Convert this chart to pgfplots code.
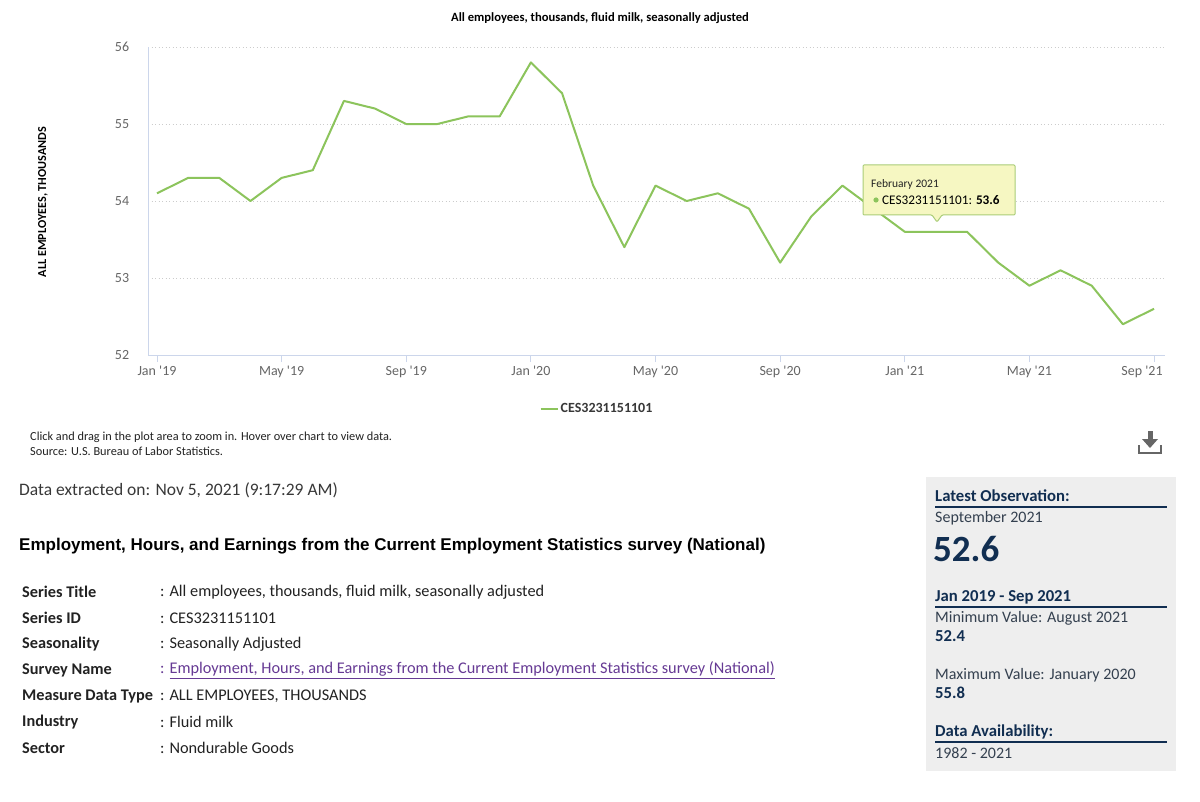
\documentclass[border=0pt]{standalone}
\usepackage{pgfplots}
\pgfplotsset{compat=1.18}
\usepackage{pgfplotstable}
\usepackage{fontspec}
\setmainfont{Carlito}[Ligatures=TeXOff]
\newfontfamily\arial{Liberation Sans}
\definecolor{linegreen}{RGB}{140,196,92}
\definecolor{axisline}{HTML}{CCD6EB}
\definecolor{gridc}{HTML}{CCCCCC}
\definecolor{tickc}{HTML}{666666}
\definecolor{tipfill}{RGB}{246,247,194}
\definecolor{tipdraw}{RGB}{170,205,120}
\definecolor{panelfill}{HTML}{EEEEEE}
\definecolor{navy}{HTML}{112E51}
\definecolor{paneltext}{HTML}{34404F}
\definecolor{linkpurple}{RGB}{102,58,148}
\definecolor{bodytext}{HTML}{222222}
\pgfplotstableread{
x y
0 54.1
1 54.3
2 54.3
3 54.0
4 54.3
5 54.4
6 55.3
7 55.2
8 55.0
9 55.0
10 55.1
11 55.1
12 55.8
13 55.4
14 54.2
15 53.4
16 54.2
17 54.0
18 54.1
19 53.9
20 53.2
21 53.8
22 54.2
23 53.9
24 53.6
25 53.6
26 53.6
27 53.2
28 52.9
29 53.1
30 52.9
31 52.4
32 52.6
}\datatable
\newcommand{\fs}[1]{\fontsize{#1}{#1}\selectfont}
\begin{document}
\begin{tikzpicture}
\path[use as bounding box, fill=white] (0pt,0pt) rectangle (1200pt,-802pt);
\begin{axis}[
  at={(148pt,-355pt)}, anchor=south west,
  scale only axis, width=1017pt, height=308pt,
  xmin=-0.289, xmax=32.353, ymin=52, ymax=56,
  axis x line*=bottom, axis y line*=left,
  axis line style={draw=axisline, line width=1pt, -},
  xtick={0,4,8,12,16,20,24,28},
  xticklabels={Jan '19,May '19,Sep '19,Jan '20,May '20,Sep '20,Jan '21,May '21},
  extra x ticks={32}, extra x tick labels={Sep '21},
  extra x tick style={xticklabel style={xshift=-12pt}, grid=none},
  ytick={52,53,54,55,56},
  /pgf/number format/assume math mode=true,
  tick align=outside,
  x tick style={draw=axisline, line width=1pt},
  xtick pos=bottom,
  major tick length=7pt,
  y tick style={draw=none},
  ytick pos=left,
  ticklabel style={font=\fs{14}, text=tickc},
  yticklabel style={xshift=-13pt+4.7pt, anchor=east},
  xticklabel style={yshift=-1pt},
  ymajorgrids,
  grid style={draw=gridc, line width=1pt, dash pattern=on 1pt off 2.5pt},
  title={All employees, thousands, fluid milk, seasonally adjusted},
  title style={at={(axis description cs:0.4444,1)}, anchor=center, yshift=23pt, font=\bfseries\fs{12.6}, text=black},
  ylabel={ALL EMPLOYEES, THOUSANDS},
  ylabel style={at={(axis description cs:-0.1032,0.497)}, anchor=center, rotate=0, font=\bfseries\fs{12.2}, text=black},
  legend style={at={(axis description cs:0.4415,-0.175)}, anchor=center, draw=none, fill=none, font=\bfseries\fs{14}, text=bodytext!90!white},
  legend image code/.code={\draw[#1, line width=2pt] (0pt,0pt) -- (17pt,0pt);},
]
\addplot[color=linegreen, line width=2pt, line join=round, no markers] table[x=x, y=y] {\datatable};
\addlegendentry{CES3231151101}
\end{axis}
% tooltip
\draw[draw=tipdraw, fill=tipfill, line width=1pt, rounded corners=1pt]
  (863pt,-165pt) -- (1015pt,-165pt) -- (1015pt,-215pt) -- (942pt,-215pt) -- (937pt,-222pt) -- (932pt,-215pt) -- (863pt,-215pt) -- cycle;
\node[anchor=west, inner sep=0pt, font=\fs{11.5}, text=bodytext] at (871pt,-184pt) {February 2021};
\fill[linegreen] (876pt,-200pt) circle (2.6pt);
\node[anchor=west, inner sep=0pt, font=\fs{13.2}, text=black] at (882pt,-200pt) {CES3231151101: \textbf{53.6}};
% notes
\node[anchor=west, inner sep=0pt, font=\fs{12.3}, text=bodytext] at (30pt,-437pt) {Click and drag in the plot area to zoom in. Hover over chart to view data.};
\node[anchor=west, inner sep=0pt, font=\fs{12.3}, text=bodytext] at (30pt,-451pt) {Source: U.S. Bureau of Labor Statistics.};
% download icon
\fill[tickc] (1147.5pt,-431pt) rectangle (1152.5pt,-440pt);
\fill[tickc] (1142pt,-439pt) -- (1158pt,-439pt) -- (1150pt,-448pt) -- cycle;
\draw[tickc, line width=2pt] (1139pt,-445pt) -- (1139pt,-453pt) -- (1161pt,-453pt) -- (1161pt,-445pt);
% data extracted
\node[anchor=west, inner sep=0pt, font=\fs{17.5}, text=bodytext!90!white] at (19pt,-490pt) {Data extracted on: Nov 5, 2021 (9:17:29 AM)};
\node[anchor=west, inner sep=0pt, font=\arial\bfseries\fs{17}, text=black] at (19pt,-546pt) {Employment, Hours, and Earnings from the Current Employment Statistics survey (National)};
% table
\foreach \lab/\yy in {Series Title/592, Series ID/618, Seasonality/644, Survey Name/670, Measure Data Type/696, Industry/722, Sector/748}{
  \node[anchor=west, inner sep=0pt, font=\bfseries\fs{16.3}, text=bodytext] at (22pt,-\yy pt) {\lab};
}
\foreach \val/\yy in {{All employees, thousands, fluid milk, seasonally adjusted}/592, {CES3231151101}/618, {Seasonally Adjusted}/644, {ALL EMPLOYEES, THOUSANDS}/696, {Fluid milk}/722, {Nondurable Goods}/748}{
  \node[anchor=west, inner sep=0pt, font=\fs{16.3}, text=bodytext] at (160pt,-\yy pt) {:\hspace{5pt}\val};
}
\node[anchor=west, inner sep=0pt, font=\fs{16.3}, text=linkpurple] at (160pt,-670pt) {:\hspace{5pt}\underline{Employment, Hours, and Earnings from the Current Employment Statistics survey (National)}};
% right panel
\fill[panelfill] (926pt,-477pt) rectangle (1176pt,-771pt);
\node[anchor=west, inner sep=0pt, font=\bfseries\fs{16.7}, text=navy] at (935pt,-496pt) {Latest Observation:};
\draw[navy, line width=1.2pt] (935pt,-507pt) -- (1167pt,-507pt);
\node[anchor=west, inner sep=0pt, font=\fs{16}, text=paneltext] at (935pt,-518pt) {September 2021};
\node[anchor=west, inner sep=0pt, font=\bfseries\fs{37}, text=navy] at (933pt,-549pt) {52.6};
\node[anchor=west, inner sep=0pt, font=\bfseries\fs{16.7}, text=navy] at (935pt,-597pt) {Jan 2019 - Sep 2021};
\draw[navy, line width=1.2pt] (935pt,-607pt) -- (1167pt,-607pt);
\node[anchor=west, inner sep=0pt, font=\fs{16}, text=paneltext] at (935pt,-618pt) {Minimum Value: August 2021};
\node[anchor=west, inner sep=0pt, font=\bfseries\fs{16.7}, text=navy] at (935pt,-636pt) {52.4};
\node[anchor=west, inner sep=0pt, font=\fs{16}, text=paneltext] at (935pt,-675pt) {Maximum Value: January 2020};
\node[anchor=west, inner sep=0pt, font=\bfseries\fs{16.7}, text=navy] at (935pt,-693pt) {55.8};
\node[anchor=west, inner sep=0pt, font=\bfseries\fs{16.7}, text=navy] at (935pt,-732pt) {Data Availability:};
\draw[navy, line width=1.2pt] (935pt,-742pt) -- (1167pt,-742pt);
\node[anchor=west, inner sep=0pt, font=\fs{16}, text=paneltext] at (935pt,-753pt) {1982 - 2021};
\end{tikzpicture}
\end{document}
